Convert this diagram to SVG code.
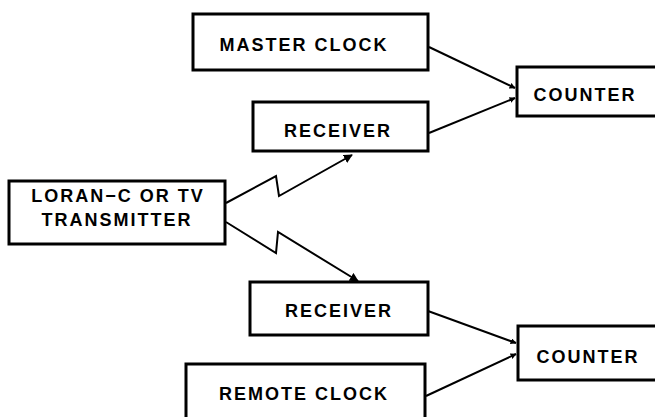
<svg xmlns="http://www.w3.org/2000/svg" width="655" height="417" viewBox="0 0 655 417">
  <defs>
    <style>
      .box { fill: #fff; stroke: #000; stroke-width: 3; stroke-linejoin: miter; }
      .lbl { font-family: "Liberation Sans", Arial, sans-serif; font-weight: bold; font-size: 18px; fill: #000; text-anchor: middle; letter-spacing: 2px; }
      .wire { fill: none; stroke: #000; stroke-width: 2; stroke-linejoin: miter; }
    </style>
    <marker id="arrow" viewBox="0 0 10 10" refX="9" refY="5" markerWidth="6" markerHeight="6" markerUnits="userSpaceOnUse" orient="auto">
      <path d="M0,0 L10,5 L0,10 z" fill="#000"/>
    </marker>
    <marker id="bolt" viewBox="0 0 10 10" refX="9" refY="5" markerWidth="9" markerHeight="9" markerUnits="userSpaceOnUse" orient="auto">
      <path d="M0,0 L10,5 L0,10 z" fill="#000"/>
    </marker>
  </defs>
  <rect width="655" height="417" fill="#fff"/>

  <g id="connectors">
    <!-- radio paths from the transmitter -->
    <polyline class="wire" points="226,203 276,176 279,196 352,155" marker-end="url(#bolt)"/>
    <polyline class="wire" points="226,222 276,253 278,232 358,281" marker-end="url(#bolt)"/>
    <!-- inputs to the counters -->
    <line class="wire" x1="429" y1="47" x2="515" y2="88" marker-end="url(#arrow)"/>
    <line class="wire" x1="429" y1="133" x2="515" y2="98" marker-end="url(#arrow)"/>
    <line class="wire" x1="428" y1="311" x2="516" y2="343" marker-end="url(#arrow)"/>
    <line class="wire" x1="426" y1="396" x2="516" y2="354" marker-end="url(#arrow)"/>
  </g>

  <g id="master-clock">
    <rect class="box" x="193" y="14" width="235" height="56"/>
    <text class="lbl" x="304" y="51" letter-spacing="2.5">MASTER CLOCK</text>
  </g>
  <g id="counter-1">
    <rect class="box" x="517" y="67" width="150" height="49"/>
    <text class="lbl" x="585" y="101">COUNTER</text>
  </g>
  <g id="receiver-1">
    <rect class="box" x="253" y="102" width="175" height="49"/>
    <text class="lbl" x="338" y="137" letter-spacing="3.5">RECEIVER</text>
  </g>
  <g id="transmitter">
    <rect class="box" x="9" y="181" width="216" height="63"/>
    <text class="lbl" x="118" y="202" letter-spacing="3.5">LORAN−C OR TV</text>
    <text class="lbl" x="117" y="226" letter-spacing="2.5">TRANSMITTER</text>
  </g>
  <g id="receiver-2">
    <rect class="box" x="250" y="282" width="178" height="53"/>
    <text class="lbl" x="339" y="317" letter-spacing="3.5">RECEIVER</text>
  </g>
  <g id="counter-2">
    <rect class="box" x="518" y="326" width="150" height="54"/>
    <text class="lbl" x="588" y="363">COUNTER</text>
  </g>
  <g id="remote-clock">
    <rect class="box" x="186" y="364" width="239" height="70"/>
    <text class="lbl" x="304" y="400" letter-spacing="2.5">REMOTE CLOCK</text>
  </g>
</svg>
